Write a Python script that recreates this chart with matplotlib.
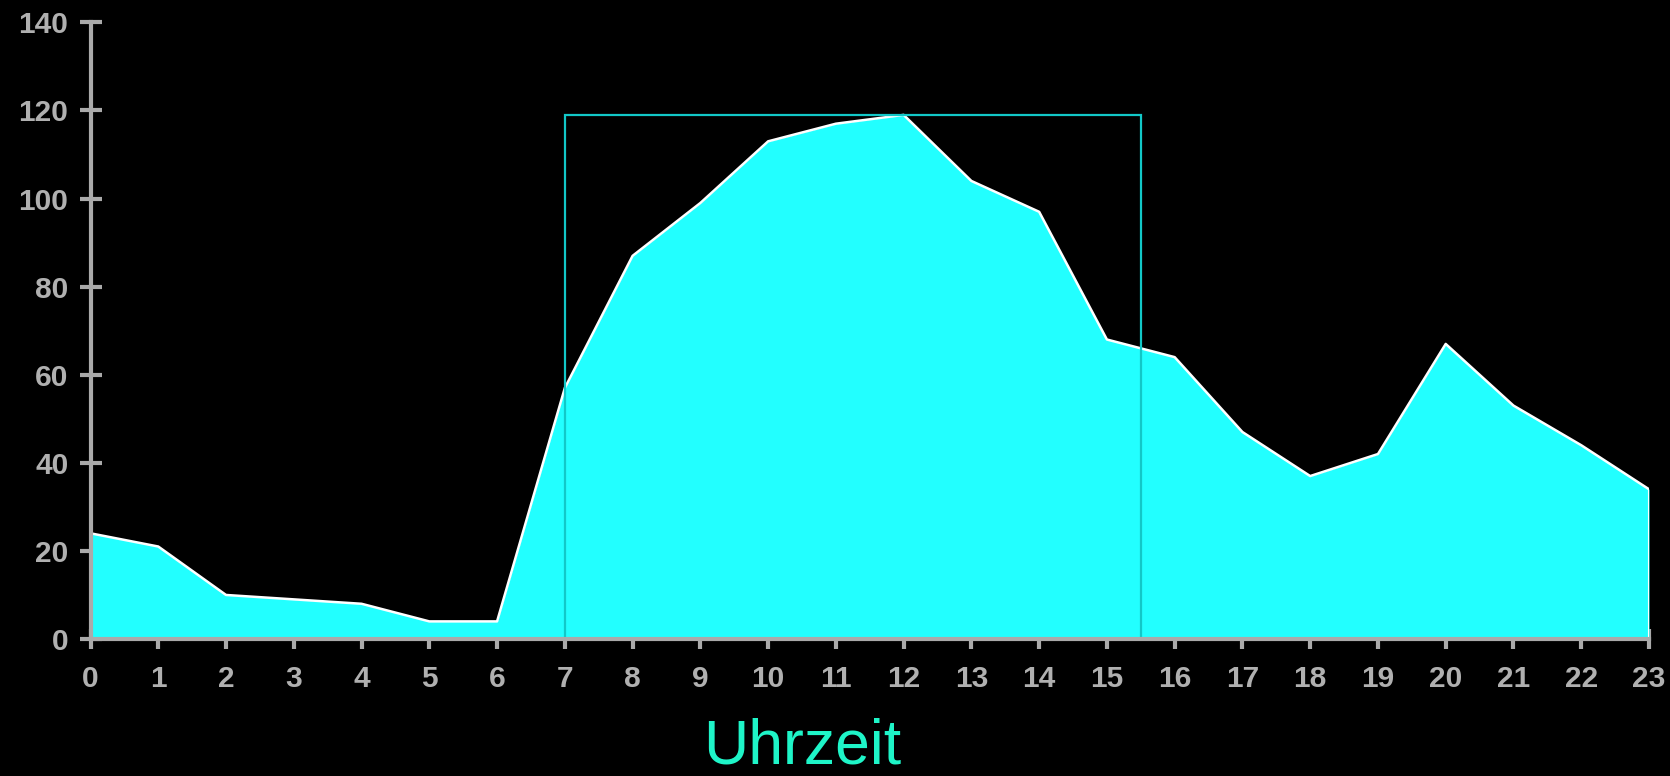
import matplotlib
matplotlib.use("Agg")
import matplotlib.pyplot as plt
from matplotlib.patches import Rectangle

hours = list(range(24))
values = [24, 21, 10, 9, 8, 4, 4, 57, 87, 99, 113, 117, 119, 104, 97, 68, 64, 47, 37, 42, 67, 53, 44, 34]
y_ticks = [0, 20, 40, 60, 80, 100, 120, 140]
x_label = "Uhrzeit"
box_x = [7, 15.5]
box_y = [0, 119]

plt.rcParams['font.family'] = ['Liberation Sans', 'DejaVu Sans']

fig = plt.figure(figsize=(16.7, 7.76), dpi=100, facecolor='black')
ax = fig.add_axes([90.5/1670, (776-639)/776, (1649-90.5)/1670, (639-22.4)/776])
ax.set_facecolor('black')

ax.fill_between(hours, values, 0, color='#22FFFF', linewidth=0, zorder=2)
ax.plot(hours, values, color='white', linewidth=1.8, zorder=3)
ax.plot([hours[-1], hours[-1]], [0, values[-1]], color='white', linewidth=1.5, zorder=3)

ax.add_patch(Rectangle((box_x[0], box_y[0]), box_x[1]-box_x[0], box_y[1]-box_y[0],
                       fill=False, edgecolor='#12C8C8', linewidth=1.6, zorder=4))

ax.set_xlim(0, 23)
ax.set_ylim(0, 140)
ax.set_xticks(hours)
ax.set_yticks(y_ticks)
for s in ['top', 'right']:
    ax.spines[s].set_visible(False)
for s in ['left', 'bottom']:
    ax.spines[s].set_color('#aaaaaa')
    ax.spines[s].set_linewidth(3)
    ax.spines[s].set_zorder(5)
ax.tick_params(axis='y', direction='inout', length=16, width=3, color='#aaaaaa',
               labelcolor='#b0b0b0', labelsize=21.5, pad=8)
ax.tick_params(axis='x', direction='inout', length=14, width=3, color='#aaaaaa',
               labelcolor='#b0b0b0', labelsize=21.5, pad=12)
for lab in ax.get_xticklabels() + ax.get_yticklabels():
    lab.set_fontweight('bold')

fig.text(802/1670, (776-763)/776, x_label, color='#1EF5C8', fontsize=45,
         ha='center', va='baseline')

fig.savefig('out.png', dpi=100, facecolor='black')
